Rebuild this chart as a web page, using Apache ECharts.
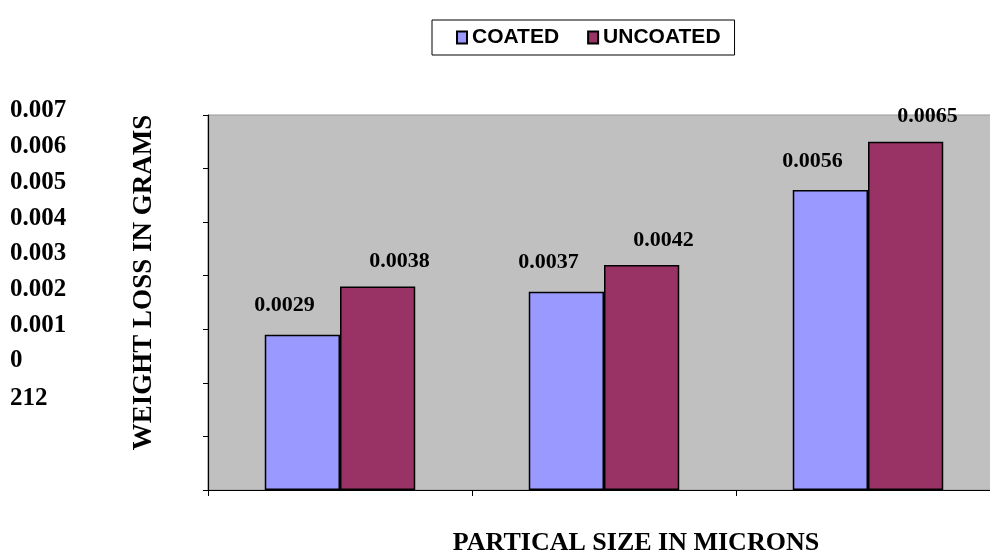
<!DOCTYPE html>
<html>
<head>
<meta charset="utf-8">
<script src="https://cdn.jsdelivr.net/npm/echarts@6/dist/echarts.min.js"></script>
<style>html,body{margin:0;padding:0;background:#fff}#c{width:990px;height:550px}</style>
</head>
<body>
<div id="c"></div>
<script>
const categories = ['212', '', ''];
const coated = [0.0029, 0.0037, 0.0056];
const uncoated = [0.0038, 0.0042, 0.0065];
const seriesNames = ['COATED', 'UNCOATED'];
const yTitle = 'WEIGHT LOSS IN GRAMS';
const xTitle = 'PARTICAL SIZE IN MICRONS';

const serif = "'Liberation Serif', 'Times New Roman', serif";
const sans = "'Liberation Sans', Arial, sans-serif";
const chart = echarts.init(document.getElementById('c'));
const labelStyle = {show: true, position: 'top', fontFamily: serif, fontWeight: 'bold', fontSize: 22, color: '#000', distance: 4};
chart.setOption({
  animation: false,
  legend: {
    data: seriesNames, left: 432, top: 20, padding: [7, 14, 7, 24],
    borderColor: '#000', borderWidth: 1, itemGap: 28, itemWidth: 10, itemHeight: 12,
    icon: 'rect',
    textStyle: {fontFamily: sans, fontWeight: 'bold', fontSize: 21, color: '#000'}
  },
  grid: [
    {left: 208, top: 115, bottom: 60, right: -10, outerBoundsMode: 'none', containLabel: false, show: true, backgroundColor: '#C0C0C0', borderColor: '#999', borderWidth: 1},
    {left: 10, top: 111, height: 250, width: 1, outerBoundsMode: 'none', containLabel: false, show: false}
  ],
  xAxis: [
    {type: 'category', gridIndex: 0, data: categories, name: xTitle, nameLocation: 'middle', nameGap: 40,
     nameTextStyle: {fontFamily: serif, fontWeight: 'bold', fontSize: 26, color: '#000', padding: [0, 0, 0, 64]},
     axisLine: {lineStyle: {color: '#000', width: 1.2}}, axisTick: {show: true, length: 6, lineStyle: {color: '#000'}},
     axisLabel: {show: false}},
    {type: 'category', gridIndex: 1, data: categories, show: false}
  ],
  yAxis: [
    {type: 'value', gridIndex: 0, min: 0, max: 0.007, interval: 0.001, name: yTitle, nameLocation: 'middle', nameGap: 50, nameRotate: 90,
     nameTextStyle: {fontFamily: serif, fontWeight: 'bold', fontSize: 27, color: '#000', padding: [0, 0, 0, 40]},
     axisLine: {show: true, lineStyle: {color: '#000', width: 1.2}}, axisTick: {show: true, length: 5, lineStyle: {color: '#000'}},
     axisLabel: {show: false}, splitLine: {show: false}},
    {type: 'value', gridIndex: 1, min: 0, max: 0.007, interval: 0.001, axisLine: {show: false}, axisTick: {show: false}, splitLine: {show: false},
     axisLabel: {show: true, inside: true, margin: 0, fontFamily: serif, fontWeight: 'bold', fontSize: 25, color: '#000'}}
  ],
  graphic: [
    {type: 'text', left: 10, top: 386, style: {text: categories[0], fontFamily: serif, fontWeight: 'bold', fontSize: 25, fill: '#000'}}
  ],
  series: [
    {name: seriesNames[0], type: 'bar', data: coated, barGap: '0%', barCategoryGap: '43%',
     itemStyle: {color: '#9999FF', borderColor: '#000', borderWidth: 1.5},
     label: Object.assign({}, labelStyle, {offset: [-18, -14]})},
    {name: seriesNames[1], type: 'bar', data: uncoated, barGap: '0%', barCategoryGap: '43%',
     itemStyle: {color: '#993366', borderColor: '#000', borderWidth: 1.5},
     label: Object.assign({}, labelStyle, {offset: [22, -10]})}
  ]
});
</script>
</body>
</html>
